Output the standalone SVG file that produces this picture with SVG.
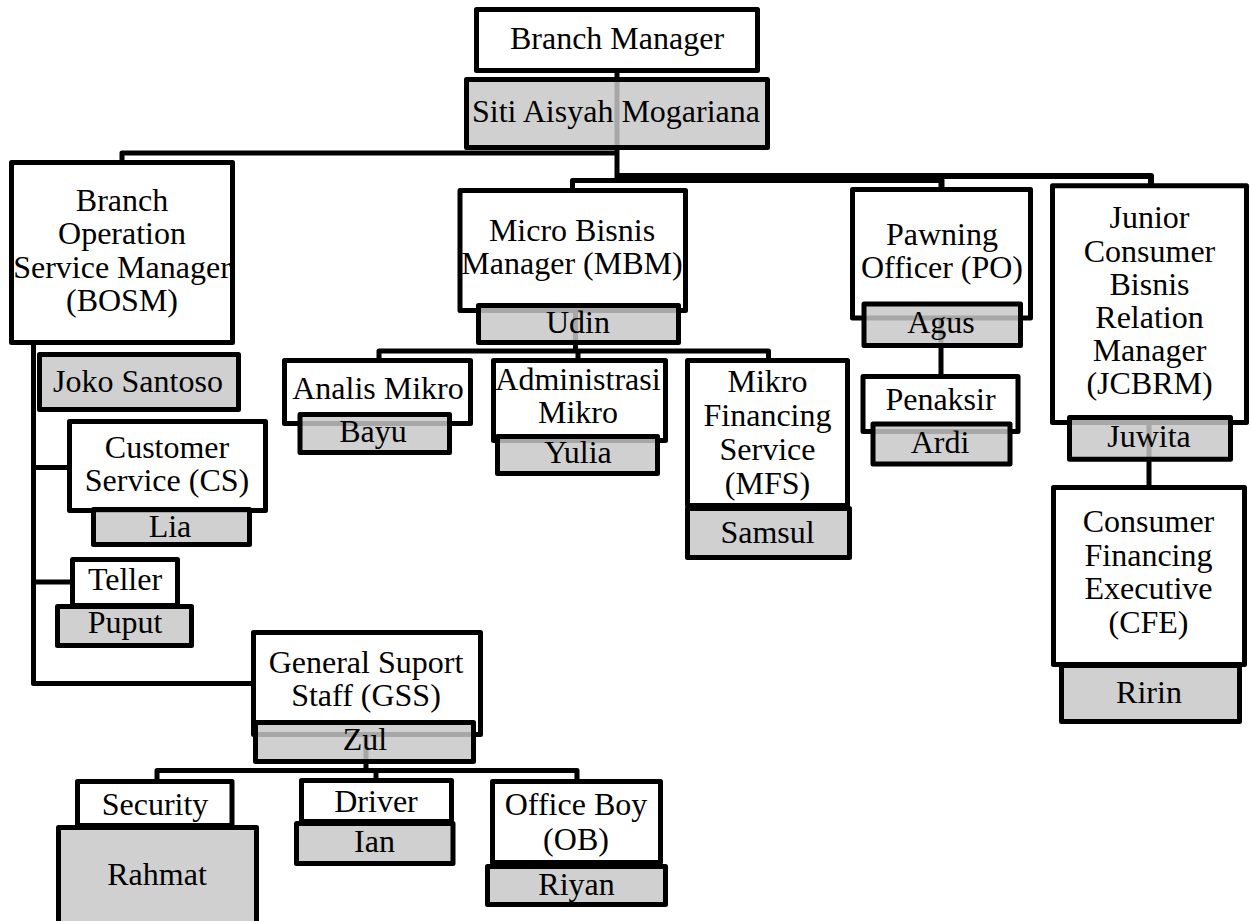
<svg xmlns="http://www.w3.org/2000/svg" width="1250" height="921" viewBox="0 0 1250 921">
<style>
.box{fill:#fff;stroke:#000;stroke-width:5;stroke-linejoin:round}
.name{fill:#c7c7c7;fill-opacity:.84;stroke:#000;stroke-width:5;stroke-linejoin:round}
.conn{fill:none;stroke:#000;stroke-width:5;stroke-linejoin:round}
.wide{stroke-width:6}
text{font-family:"Liberation Serif","Times New Roman",serif;font-size:32px;fill:#000;text-anchor:middle}
</style>
<rect x="0" y="0" width="1250" height="921" fill="#fff"/>
<g id="connectors">
<path class="conn" d="M617,70 V180.5"/>
<path class="conn" d="M617,153 H122 V164"/>
<path class="conn" d="M617,180.5 H572.5 V191"/>
<path class="conn wide" d="M617,176 H1151 V187"/>
<path class="conn wide" d="M617,180 H941.5 V190"/>
<path class="conn" d="M33.5,342 V683.5 H255"/>
<path class="conn" d="M33.5,467.5 H71"/>
<path class="conn" d="M33.5,582 H74"/>
<path class="conn" d="M575.5,310 V351"/>
<path class="conn" d="M379,362 V351 H768.5 V362"/>
<path class="conn" d="M578,351 V362"/>
<path class="conn" d="M941,318 V378"/>
<path class="conn" d="M1149,421 V489"/>
<path class="conn" d="M366,735 V770.5"/>
<path class="conn" d="M157,783 V770.5 H577 V783"/>
<path class="conn" d="M376,770.5 V782"/>
</g>
<g id="branch-manager">
<rect class="box" x="476.5" y="9.5" width="281" height="61"/>
<text x="617" y="49">Branch Manager</text>
<rect class="name" x="466.5" y="79.5" width="301" height="68"/>
<text x="616" y="122">Siti Aisyah Mogariana</text>
</g>
<g id="bosm">
<rect class="box" x="11.5" y="162.5" width="221" height="180"/>
<text x="122" y="211">Branch</text>
<text x="122" y="244">Operation</text>
<text x="122" y="278">Service Manager</text>
<text x="122" y="311">(BOSM)</text>
<rect class="name" x="39.5" y="354.5" width="199" height="55"/>
<text x="138" y="392">Joko Santoso</text>
</g>
<g id="cs">
<rect class="box" x="69.5" y="421.5" width="196" height="89"/>
<text x="167" y="458">Customer</text>
<text x="167" y="491">Service (CS)</text>
<rect class="name" x="93.5" y="509.5" width="156" height="35"/>
<text x="170" y="537">Lia</text>
</g>
<g id="teller">
<rect class="box" x="72.5" y="559.5" width="105" height="46"/>
<text x="125" y="590">Teller</text>
<rect class="name" x="57.5" y="606.5" width="134" height="39"/>
<text x="125" y="633">Puput</text>
</g>
<g id="mbm">
<rect class="box" x="460" y="190.5" width="225.5" height="120"/>
<text x="572" y="241">Micro Bisnis</text>
<text x="572" y="274">Manager (MBM)</text>
<rect class="name" x="478.5" y="305.5" width="200" height="37"/>
<text x="578" y="333">Udin</text>
</g>
<g id="analis-mikro">
<rect class="box" x="284.5" y="360.5" width="186" height="63"/>
<text x="378" y="399">Analis Mikro</text>
<rect class="name" x="300" y="414.5" width="149.5" height="38"/>
<text x="373" y="442">Bayu</text>
</g>
<g id="administrasi-mikro">
<rect class="box" x="493.5" y="360.5" width="172" height="80"/>
<text x="578" y="390">Administrasi</text>
<text x="578" y="423">Mikro</text>
<rect class="name" x="497.5" y="436.5" width="160" height="37"/>
<text x="578" y="463">Yulia</text>
</g>
<g id="mfs">
<rect class="box" x="687.5" y="360.5" width="160" height="145"/>
<text x="767.5" y="392">Mikro</text>
<text x="767.5" y="426">Financing</text>
<text x="767.5" y="460">Service</text>
<text x="767.5" y="494">(MFS)</text>
<rect class="name" x="687.5" y="508.5" width="162" height="49"/>
<text x="767.5" y="543">Samsul</text>
</g>
<g id="pawning-officer">
<rect class="box" x="852.5" y="189.5" width="178" height="128.5"/>
<text x="942" y="245">Pawning</text>
<text x="942" y="278">Officer (PO)</text>
<rect class="name" x="864" y="304" width="156.5" height="41.5"/>
<text x="941" y="333">Agus</text>
</g>
<g id="penaksir">
<rect class="box" x="863" y="376.5" width="155" height="55"/>
<text x="940.5" y="410">Penaksir</text>
<rect class="name" x="873" y="424" width="137" height="40"/>
<text x="940" y="453">Ardi</text>
</g>
<g id="jcbrm">
<rect class="box" x="1052.5" y="185.8" width="194" height="236.7"/>
<text x="1149.5" y="228">Junior</text>
<text x="1149.5" y="261.5">Consumer</text>
<text x="1149.5" y="294.5">Bisnis</text>
<text x="1149.5" y="327.5">Relation</text>
<text x="1149.5" y="360.5">Manager</text>
<text x="1149.5" y="394">(JCBRM)</text>
<rect class="name" x="1069.5" y="417.5" width="161" height="41.7"/>
<text x="1149" y="447">Juwita</text>
</g>
<g id="cfe">
<rect class="box" x="1053.5" y="487.5" width="191" height="177"/>
<text x="1148.5" y="532">Consumer</text>
<text x="1148.5" y="565.5">Financing</text>
<text x="1148.5" y="599">Executive</text>
<text x="1148.5" y="633">(CFE)</text>
<rect class="name" x="1061.5" y="665.5" width="178" height="56"/>
<text x="1149" y="703">Ririn</text>
</g>
<g id="gss">
<rect class="box" x="253.5" y="632.5" width="227" height="102"/>
<text x="366" y="673">General Suport</text>
<text x="366" y="706">Staff (GSS)</text>
<rect class="name" x="255.5" y="722.5" width="218" height="39"/>
<text x="365" y="750">Zul</text>
</g>
<g id="security">
<rect class="box" x="77.5" y="781.5" width="154.5" height="44"/>
<text x="155" y="815">Security</text>
<rect class="name" x="58.5" y="827.5" width="198" height="110"/>
<text x="157" y="885">Rahmat</text>
</g>
<g id="driver">
<rect class="box" x="301.5" y="780.5" width="150" height="41"/>
<text x="376" y="812">Driver</text>
<rect class="name" x="296.5" y="823.5" width="156.5" height="40"/>
<text x="374.5" y="852">Ian</text>
</g>
<g id="office-boy">
<rect class="box" x="492.5" y="781.5" width="168" height="81"/>
<text x="576" y="815">Office Boy</text>
<text x="576" y="850">(OB)</text>
<rect class="name" x="487.5" y="866.5" width="178" height="38"/>
<text x="576.5" y="895">Riyan</text>
</g>
</svg>
